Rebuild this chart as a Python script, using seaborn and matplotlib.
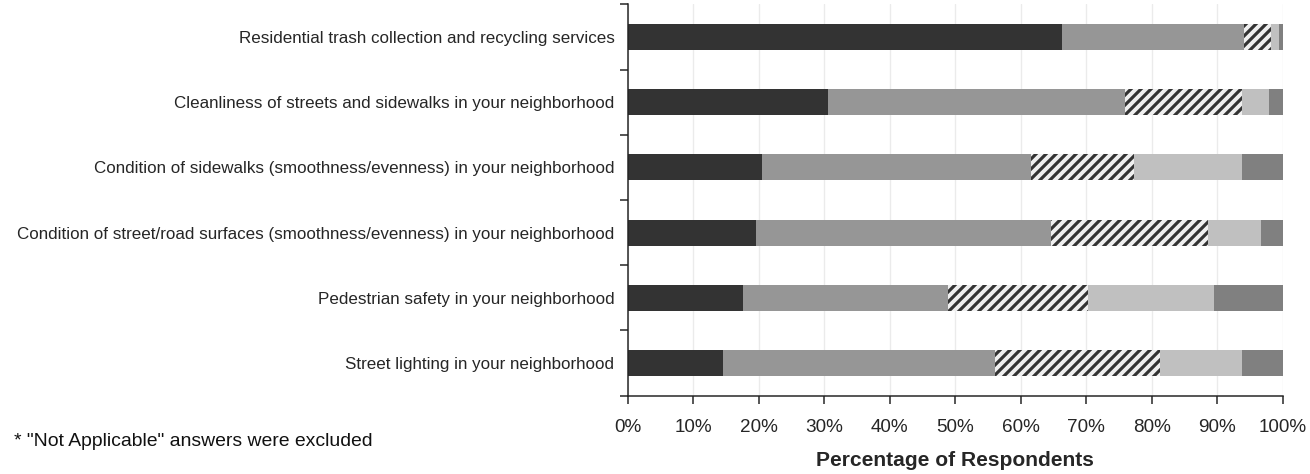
import numpy as np
import pandas as pd
import matplotlib
matplotlib.use("Agg")
import matplotlib.pyplot as plt
import seaborn as sns
from matplotlib.ticker import FixedLocator

categories = [
    "Residential trash collection and recycling services",
    "Cleanliness of streets and sidewalks in your neighborhood",
    "Condition of sidewalks (smoothness/evenness) in your neighborhood",
    "Condition of street/road surfaces (smoothness/evenness) in your neighborhood",
    "Pedestrian safety in your neighborhood",
    "Street lighting in your neighborhood",
]
very_satisfied = [66.3, 30.6, 20.5, 19.6, 17.6, 14.6]
satisfied = [27.8, 45.3, 41.1, 45.0, 31.3, 41.4]
neutral = [4.1, 17.8, 15.7, 23.9, 21.4, 25.3]
dissatisfied = [1.2, 4.1, 16.5, 8.2, 19.1, 12.5]
very_dissatisfied = [0.6, 2.2, 6.2, 3.3, 10.6, 6.2]
tick_labels = ["0%", "10%", "20%", "30%", "40%", "50%", "60%", "70%", "80%", "90%", "100%"]

series = [very_satisfied, satisfied, neutral, dissatisfied, very_dissatisfied]
colors = ["#333333", "#969696", "#f0f0f0", "#c0c0c0", "#808080"]
hatches = [None, None, "////", None, None]

sns.set_theme(style="white")
plt.rcParams["font.family"] = ["Liberation Sans", "DejaVu Sans"]
plt.rcParams["hatch.linewidth"] = 1.9
plt.rcParams["hatch.color"] = "#333333"

fig = plt.figure(figsize=(1310 / 120, 474 / 120), dpi=120)
ax = fig.add_axes([0.4792, 0.1652, 0.9794 - 0.4792, 0.9909 - 0.1652])

cum = np.cumsum(np.array(series), axis=0)
for i in range(len(series) - 1, -1, -1):
    df = pd.DataFrame({"cat": categories, "val": cum[i]})
    sns.barplot(data=df, x="val", y="cat", order=categories, orient="h",
                color=colors[i], width=0.4, saturation=1, ax=ax,
                linewidth=0, edgecolor="#333333" if hatches[i] else colors[i])
    if hatches[i]:
        for p in ax.patches[-len(categories):]:
            p.set_hatch(hatches[i])
            p.set_edgecolor("#333333")
            p.set_linewidth(0)

ax.set_xlim(0, 100)
ax.set_ylim(5.5, -0.5)
ax.set_xticks(np.arange(0, 101, 10))
ax.set_xticklabels(tick_labels, fontsize=11.3)
ax.set_xlabel("Percentage of Respondents", fontsize=12.6, fontweight="bold", labelpad=9)
ax.set_ylabel("")
ax.set_yticks(range(len(categories)))
ax.set_yticklabels(categories, fontsize=10.2)
ax.yaxis.set_minor_locator(FixedLocator(np.arange(-0.5, len(categories), 1.0)))
ax.tick_params(axis="y", which="major", length=0, pad=8)
ax.tick_params(axis="y", which="minor", length=5, width=0.9, color="#222222", left=True)
ax.tick_params(axis="x", which="major", length=5, width=0.9, color="#222222", bottom=True, pad=9)

ax.grid(axis="x", color="#ebebeb", linewidth=0.8)
ax.set_axisbelow(True)
for s in ["top", "right"]:
    ax.spines[s].set_visible(False)
for s in ["left", "bottom"]:
    ax.spines[s].set_color("#222222")
    ax.spines[s].set_linewidth(0.9)

fig.text(14 / 1310, 1 - 442 / 474, '* "Not Applicable" answers were excluded',
         fontsize=11.6, va="center", ha="left", color="#111111")

fig.savefig("out.png", dpi=120)
